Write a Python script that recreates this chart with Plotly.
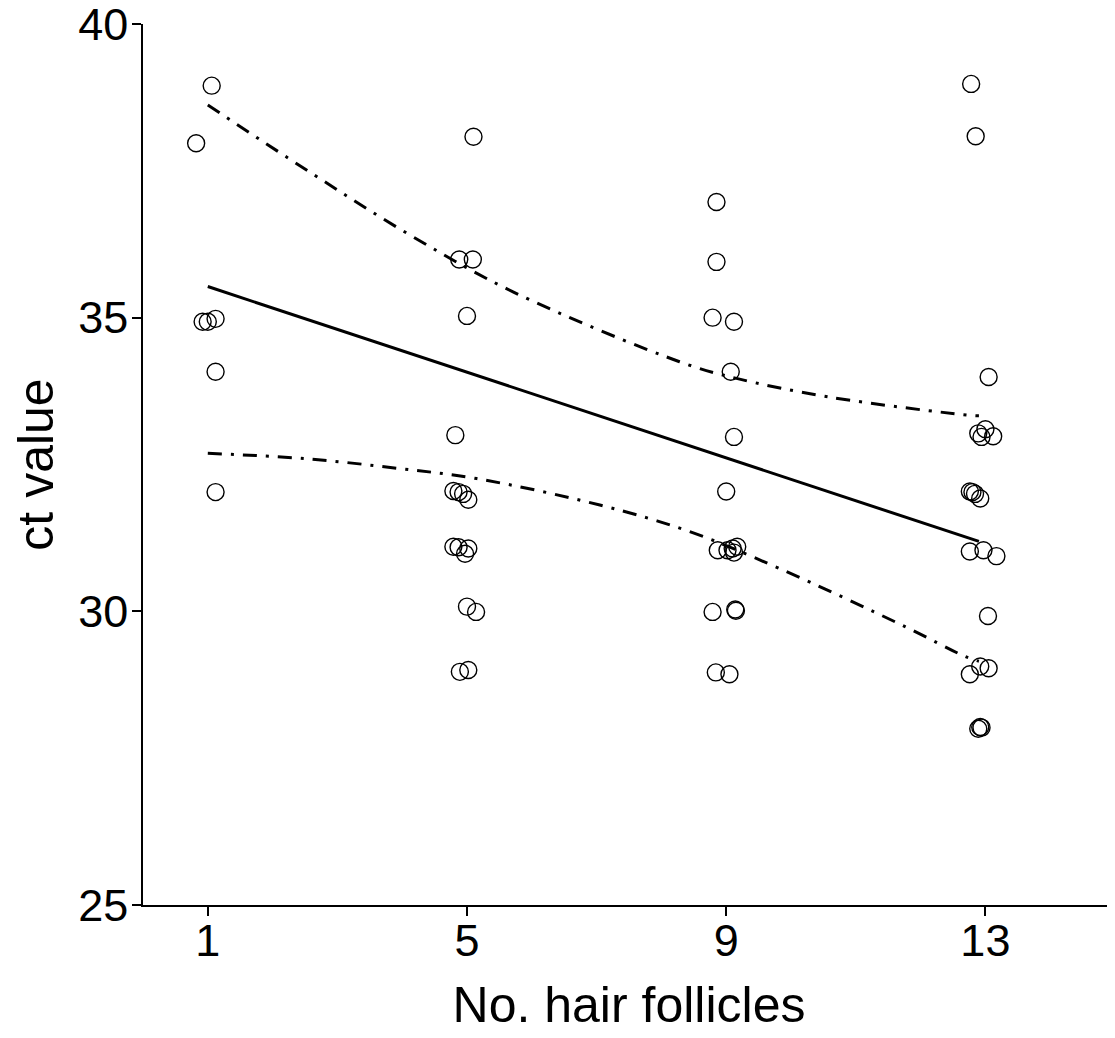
import plotly.graph_objects as go

# ---- data ----
pts_x = [1.06, 0.82, 0.92, 1.00, 1.12, 1.12, 1.12,
         5.10, 4.88, 5.09, 5.00, 4.82, 4.79, 4.87, 4.94, 5.02,
         4.79, 4.87, 5.02, 4.97, 5.00, 5.14, 4.89, 5.02,
         8.85, 8.85, 8.79, 9.12, 9.07, 9.12, 9.00,
         8.87, 9.02, 9.10, 9.17, 9.12, 8.79, 9.14, 9.15, 8.84, 9.05,
         12.78, 12.85, 13.05, 12.89, 13.00, 13.12, 12.94,
         12.76, 12.80, 12.84, 12.92, 12.76, 12.97, 13.17, 13.04,
         12.76, 12.92, 13.05, 12.92, 12.89, 12.94]
pts_y = [38.95, 37.97, 34.93, 34.93, 34.98, 34.08, 32.03,
         38.08, 35.99, 35.99, 35.03, 33.00, 32.05, 32.03, 32.00, 31.90,
         31.10, 31.09, 31.07, 30.98, 30.08, 29.99, 28.97, 29.00,
         36.97, 35.95, 35.00, 34.93, 34.08, 32.97, 32.04,
         31.04, 31.04, 31.07, 31.10, 31.00, 29.99, 30.03, 30.01, 28.96, 28.93,
         38.98, 38.09, 33.99, 33.03, 33.10, 32.98, 32.97,
         32.04, 32.03, 32.00, 31.92, 31.02, 31.04, 30.94, 29.92,
         28.93, 29.06, 29.03, 28.03, 28.00, 28.02]

fit_x = [1.0, 12.9]
fit_y = [35.53, 31.19]

upper_x = [1.0, 2.53, 4.07, 5.71, 8.28, 9.07, 10.58, 12.74, 12.9]
upper_y = [38.62, 37.51, 36.44, 35.44, 34.25, 33.99, 33.65, 33.34, 33.33]

lower_x = [1.0, 2.5, 3.97, 5.15, 7.05, 8.43, 9.82, 11.76, 12.69, 12.9]
lower_y = [32.69, 32.60, 32.43, 32.26, 31.81, 31.36, 30.73, 29.74, 29.23, 29.15]

x_ticks = [1, 5, 9, 13]
y_ticks = [25, 30, 35, 40]

FONT = "Liberation Sans, Arial, sans-serif"
dash_pat = "14px,9px,3px,9px"

fig = go.Figure()
fig.add_trace(go.Scatter(x=upper_x, y=upper_y, mode="lines", line_shape="spline",
                         line=dict(color="black", width=3, dash=dash_pat),
                         hoverinfo="skip"))
fig.add_trace(go.Scatter(x=lower_x, y=lower_y, mode="lines", line_shape="spline",
                         line=dict(color="black", width=3, dash=dash_pat),
                         hoverinfo="skip"))
fig.add_trace(go.Scatter(x=fit_x, y=fit_y, mode="lines",
                         line=dict(color="black", width=3)))
fig.add_trace(go.Scatter(x=pts_x, y=pts_y, mode="markers",
                         marker=dict(symbol="circle-open", size=17,
                                     color="black", line=dict(width=1.4))))

# page body has an 8px margin -> shrink figure and margins by 8px
fig.update_layout(
    width=1107, height=1030,
    margin=dict(l=135, r=0, t=16, b=133),
    paper_bgcolor="white", plot_bgcolor="white",
    showlegend=False,
    font=dict(family=FONT, color="black"),
)
fig.update_xaxes(range=[0, 15], tickvals=x_ticks, ticktext=[str(v) for v in x_ticks],
                 automargin=False,
                 showline=True, linecolor="black", linewidth=1.5,
                 ticks="outside", ticklen=9, tickwidth=1.5, tickcolor="black",
                 showgrid=False, zeroline=False, ticklabeloverflow="allow",
                 ticklabelstandoff=-14,
                 tickfont=dict(size=45, family=FONT),
                 title=dict(text="No. hair follicles", font=dict(size=50, family=FONT), standoff=22))
fig.update_yaxes(range=[25, 40], tickvals=y_ticks, ticktext=[str(v) for v in y_ticks],
                 automargin=False,
                 showline=True, linecolor="black", linewidth=1.5,
                 ticks="outside", ticklen=9, tickwidth=1.5, tickcolor="black",
                 showgrid=False, zeroline=False, ticklabeloverflow="allow",
                 ticklabelstandoff=-5,
                 tickfont=dict(size=45, family=FONT),
                 title=dict(text="ct value", font=dict(size=50, family=FONT), standoff=22))

fig.write_html("out.html")
